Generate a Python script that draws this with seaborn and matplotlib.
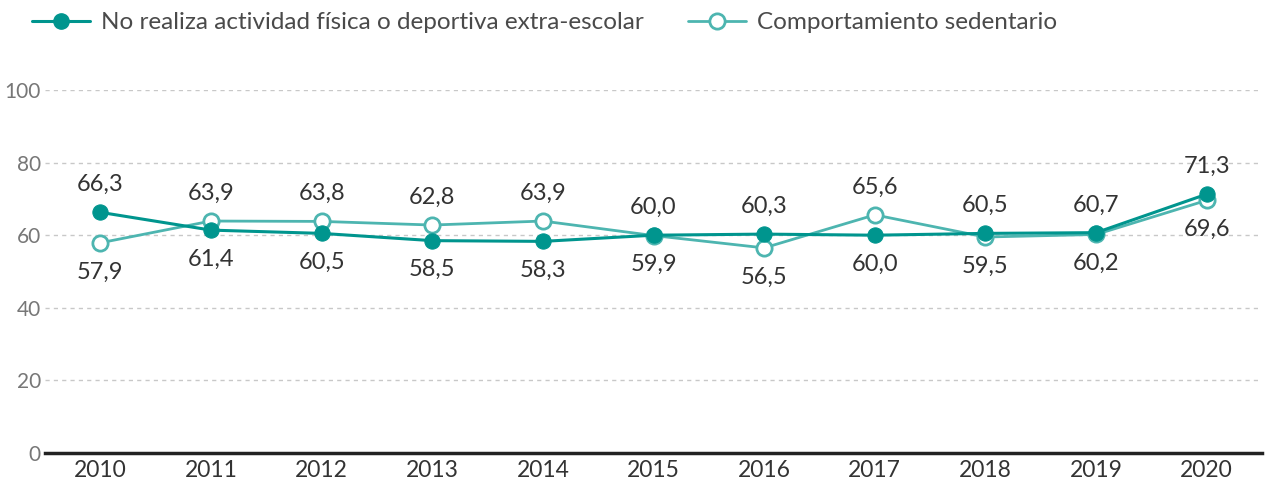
import matplotlib
matplotlib.use("Agg")
import matplotlib.pyplot as plt
import seaborn as sns
import pandas as pd
from matplotlib.lines import Line2D

years = ["2010", "2011", "2012", "2013", "2014", "2015", "2016", "2017", "2018", "2019", "2020"]
no_actividad = [66.3, 61.4, 60.5, 58.5, 58.3, 60.0, 60.3, 60.0, 60.5, 60.7, 71.3]
sedentario = [57.9, 63.9, 63.8, 62.8, 63.9, 59.9, 56.5, 65.6, 59.5, 60.2, 69.6]
series_names = ["No realiza actividad física o deportiva extra-escolar", "Comportamiento sedentario"]
yticks = [0, 20, 40, 60, 80, 100]

dark = "#00958E"
light = "#4DB5B0"

sns.set_theme(style="white")
plt.rcParams['font.family'] = ['Lato', 'DejaVu Sans']

df = pd.DataFrame({
    "x": list(range(len(years))) * 2,
    "value": no_actividad + sedentario,
    "serie": [series_names[0]] * len(years) + [series_names[1]] * len(years),
})

fig = plt.figure(figsize=(12.69, 4.88), dpi=100)
ax = fig.add_axes([45 / 1269, 35 / 488, (1262 - 45) / 1269, 363 / 488])

sns.lineplot(data=df[df.serie == series_names[1]], x="x", y="value", ax=ax,
             color=light, linewidth=2, marker="o", markersize=11,
             markerfacecolor="white", markeredgecolor=light, markeredgewidth=2, legend=False)
sns.lineplot(data=df[df.serie == series_names[0]], x="x", y="value", ax=ax,
             color=dark, linewidth=2.2, marker="o", markersize=11,
             markerfacecolor=dark, markeredgecolor=dark, legend=False)

ax.set_xlim(-0.5, len(years) - 0.5)
ax.set_ylim(0, 100)
ax.set_yticks(yticks)
ax.set_yticklabels([str(t) for t in yticks], color="#777777", fontsize=15)
ax.set_xticks(range(len(years)))
ax.set_xticklabels(years, fontsize=16.5, color="#333333")
ax.tick_params(axis="y", length=0, pad=3)
ax.tick_params(axis="x", length=0, pad=5)
ax.set_xlabel("")
ax.set_ylabel("")

for t in yticks[1:]:
    ax.axhline(t, color="#c8c8c8", linestyle=(0, (3, 3)), linewidth=1, zorder=0)

for s in ["top", "right", "left"]:
    ax.spines[s].set_visible(False)
ax.spines["bottom"].set_color("#222222")
ax.spines["bottom"].set_linewidth(2.5)

def fmt(v):
    return f"{v:.1f}".replace(".", ",")

for i, (a, b) in enumerate(zip(no_actividad, sedentario)):
    if a >= b:
        up, down = a, b
    else:
        up, down = b, a
    ax.annotate(fmt(up), (i, up), xytext=(0, 20), textcoords="offset points",
                ha="center", va="center", fontsize=17, color="#333333")
    ax.annotate(fmt(down), (i, down), xytext=(0, -21), textcoords="offset points",
                ha="center", va="center", fontsize=17, color="#333333")

handles = [
    Line2D([0], [0], color=dark, linewidth=2.2, marker="o", markersize=11,
           markerfacecolor=dark, markeredgecolor=dark),
    Line2D([0], [0], color=light, linewidth=2, marker="o", markersize=11,
           markerfacecolor="white", markeredgecolor=light, markeredgewidth=2),
]
fig.legend(handles, series_names, loc="upper left", bbox_to_anchor=(10 / 1269, 1.02),
           ncol=2, frameon=False, fontsize=17.5, handlelength=2.4, handletextpad=0.45,
           columnspacing=1.8, labelcolor="#4a4a4a")

fig.savefig("out.png", dpi=100)
